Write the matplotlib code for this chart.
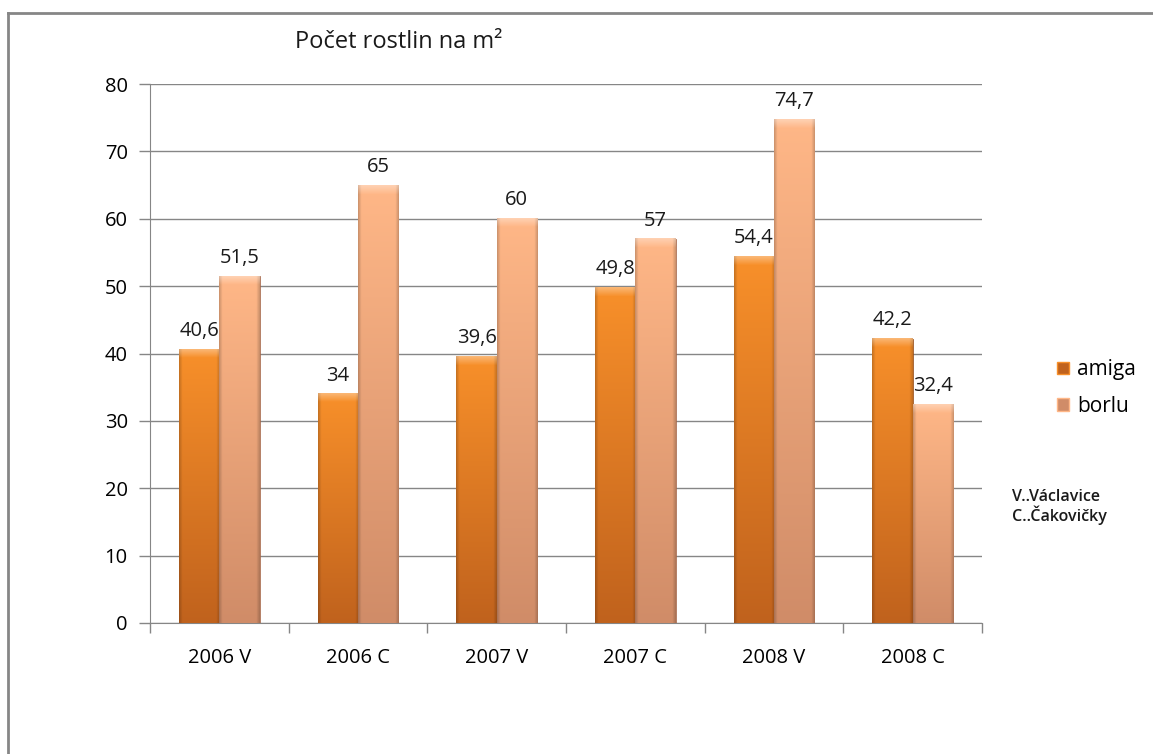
import matplotlib
matplotlib.use("Agg")
import matplotlib.pyplot as plt
import numpy as np
from matplotlib.colors import to_rgb
from matplotlib.lines import Line2D
from matplotlib.patches import Patch

plt.rcParams["font.family"] = ["Open Sans", "DejaVu Sans"]

categories = ["2006 V", "2006 C", "2007 V", "2007 C", "2008 V", "2008 C"]
amiga = [40.6, 34, 39.6, 49.8, 54.4, 42.2]
borlu = [51.5, 65, 60, 57, 74.7, 32.4]
series_names = ["amiga", "borlu"]
title = "Počet rostlin na m²"
note = "V..Václavice\nC..Čakovičky"

# top / bottom colour of the shaded bars
shades = {
    "amiga": ("#f8902a", "#c0621d"),
    "borlu": ("#ffb787", "#d08c68"),
}


def fmt(v):
    return f"{v:g}".replace(".", ",")


def shade_bar(ax, patch, top, bottom):
    x0, y0 = patch.get_x(), patch.get_y()
    w, h = patch.get_width(), patch.get_height()
    rows, cols = 300, 40
    t = np.linspace(0, 1, rows)[:, None, None]
    c_top = np.array(to_rgb(top))
    c_bot = np.array(to_rgb(bottom))
    img = c_top * (1 - t) + c_bot * t
    img = np.repeat(img, cols, axis=1)
    # darker side edges
    xs = np.linspace(0, 1, cols)
    edge = 1 - 0.18 * np.clip(1 - np.minimum(xs, 1 - xs) / 0.08, 0, 1)
    img = img * edge[None, :, None]
    # light bevel along the top, fading downwards
    bevel_px = 9
    bevel_rows = int(rows * bevel_px / (h * 6.74)) if h > 0 else 0
    for r in range(bevel_rows):
        k = 0.35 * (1 - r / bevel_rows)
        img[r] = np.clip(img[r] * (1 - k) + k, 0, 1)
    ax.imshow(img, extent=(x0, x0 + w, y0, y0 + h), origin="upper",
              aspect="auto", zorder=patch.get_zorder(), clip_path=patch,
              clip_on=True, interpolation="bilinear")


fig = plt.figure(figsize=(11.53, 7.54), dpi=100)
ax = fig.add_axes([150 / 1153, 131 / 754, 832 / 1153, 539 / 754])

x = np.arange(len(categories))
width = 0.29
bars_a = ax.bar(x - width / 2, amiga, width, color="none", edgecolor="#9a4f18",
                linewidth=0.6, zorder=3)
bars_b = ax.bar(x + width / 2, borlu, width, color="none", edgecolor="#a86a4c",
                linewidth=0.6, zorder=3)

for bars, name, vals in [(bars_a, "amiga", amiga), (bars_b, "borlu", borlu)]:
    for patch, v in zip(bars, vals):
        shade_bar(ax, patch, *shades[name])
        ax.annotate(fmt(v), (patch.get_x() + patch.get_width() / 2, v),
                    xytext=(0, 6), textcoords="offset points",
                    ha="center", va="bottom", fontsize=14.5, color="#1a1a1a",
                    zorder=5)

ax.set_xlim(-0.5, len(categories) - 0.5)
ax.set_ylim(0, 80)
ax.set_yticks(range(0, 81, 10))
ax.set_xticks(x)
ax.set_xticklabels(categories)
ax.set_xticks(np.arange(-0.5, len(categories)), minor=True)
ax.tick_params(axis="x", which="major", length=0, pad=18, labelsize=14.5)
ax.tick_params(axis="x", which="minor", length=7, color="#868686", width=1)
ax.tick_params(axis="y", length=8, color="#868686", width=1, labelsize=14.5,
               pad=8)
ax.grid(axis="y", color="#868686", linewidth=1)
ax.set_axisbelow(True)
for side in ["top", "right"]:
    ax.spines[side].set_visible(False)
for side in ["left", "bottom"]:
    ax.spines[side].set_color("#868686")

fig.text(295 / 1153, 1 - 42 / 754, title, fontsize=17, ha="left",
         va="center", color="#1a1a1a")

handles = [Patch(facecolor=shades[n][1], edgecolor=shades[n][0]) for n in series_names]
fig.legend(handles, series_names, loc="upper left",
           bbox_to_anchor=(1047 / 1153, 1 - 349 / 754), frameon=False,
           fontsize=15, handlelength=0.55, handleheight=0.55, handletextpad=0.4,
           labelspacing=0.75, borderpad=0)

fig.text(1012 / 1153, 1 - 507 / 754, note, fontsize=11.5, ha="left",
         va="center", color="#1a1a1a", fontweight="semibold", linespacing=1.05)

# outer frame around the chart area
fig.add_artist(Line2D([8 / 1153, 1], [1 - 13 / 754] * 2, color="#868686",
                      linewidth=2, transform=fig.transFigure))
fig.add_artist(Line2D([8 / 1153] * 2, [0, 1 - 13 / 754], color="#868686",
                      linewidth=2, transform=fig.transFigure))

fig.savefig("out.png", dpi=100)
